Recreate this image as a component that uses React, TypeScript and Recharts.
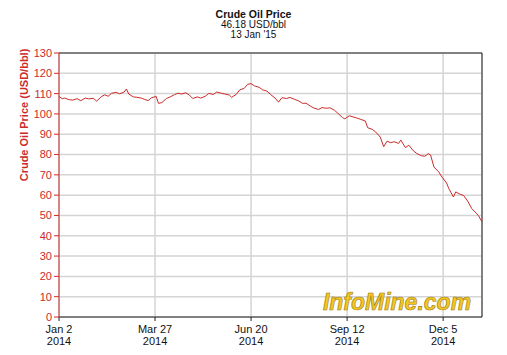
import React from "react";
import {
  LineChart,
  Line,
  XAxis,
  YAxis,
  CartesianGrid,
  ReferenceLine,
} from "recharts";

// days since Jan 2 2014
const DAYS = [
  0, 3, 5, 9, 12, 16, 19, 23, 26, 30, 33, 37, 40, 43, 46, 50, 53, 57, 59, 61,
  65, 68, 72, 75, 78, 81, 85, 87, 90, 94, 97, 101, 104, 107, 111, 114, 117, 121,
  124, 128, 131, 135, 138, 142, 145, 149, 151, 155, 158, 162, 165, 168, 171, 175,
  178, 182, 185, 189, 192, 195, 199, 202, 206, 209, 213, 216, 220, 223, 227, 230,
  234, 237, 241, 244, 248, 250, 254, 258, 261, 264, 268, 270, 274, 277, 281, 284,
  287, 290, 293, 297, 299, 303, 306, 310, 313, 317, 320, 323, 325, 328, 332, 335,
  339, 341, 345, 347, 351, 354, 358, 361, 365, 367, 370,
];

const PRICES = [
  108.5, 107.5, 107.8, 107, 106.8, 107.5, 106.5, 107.8, 107.4, 107.7, 106.3,
  108.5, 109.4, 108.7, 110.2, 110.6, 109.9, 110.8, 112.3, 109.8, 108.4, 108.2,
  107.8, 107.1, 106.6, 108, 108.6, 105.2, 105.6, 107.6, 108.3, 109.5, 110.2,
  109.8, 110.4, 109.3, 107.6, 108.4, 107.8, 108.7, 110.1, 109.6, 110.8, 110.2,
  109.8, 109.3, 108.2, 109.6, 111.8, 112.6, 114.6, 114.9, 113.8, 113.1, 111.9,
  111.2, 109.6, 107.8, 105.8, 108, 107.6, 108.1, 107.2, 106.6, 105.2, 105.3,
  103.8, 102.9, 102.2, 103.1, 102.8, 103.0, 101.8, 100.3, 98.2, 97.6, 99.1, 98.4,
  97.9, 97.3, 96.5, 93.2, 92.4, 91.1, 88.6, 83.9, 86.6, 85.8, 86.3, 85.5, 87.1,
  83.4, 84.6, 81.8, 80.5, 79.4, 79.2, 80.4, 79.8, 73.8, 71.6, 68.9, 66.0, 63.2,
  59.1, 61.6, 60.4, 59.8, 56.6, 53.4, 51.1, 49.8, 46.9,
];

const X_TICKS = [0, 84, 168, 252, 336];
const X_LABELS = ["Jan 2", "Mar 27", "Jun 20", "Sep 12", "Dec 5"];
const X_YEARS = ["2014", "2014", "2014", "2014", "2014"];
const Y_TICKS = [0, 10, 20, 30, 40, 50, 60, 70, 80, 90, 100, 110, 120, 130];

const RED = "#cc2a2a";
const FONT = "Arial, 'Liberation Sans', sans-serif";

const data = DAYS.map((d, i) => ({ day: d, price: PRICES[i] }));

function XTick({ x, y, payload }: any) {
  const i = X_TICKS.indexOf(payload.value);
  return (
    <g transform={`translate(${x},${y})`}>
      <text textAnchor="middle" fill="#111" fontSize={11} fontFamily={FONT}>
        <tspan x={0} dy={10}>{X_LABELS[i]}</tspan>
        <tspan x={0} dy={12}>{X_YEARS[i]}</tspan>
      </text>
    </g>
  );
}

function YLabel() {
  return (
    <text
      x={28}
      y={115}
      transform="rotate(-90 28 115)"
      textAnchor="middle"
      fill={RED}
      fontSize={11}
      fontWeight="bold"
      fontFamily={FONT}
    >
      Crude Oil Price (USD/bbl)
    </text>
  );
}

export default function App() {
  return (
    <div style={{ position: "absolute", left: 0, top: 0, width: 507, height: 355, background: "#fff" }}>
      <div
        style={{
          position: "absolute",
          left: 0,
          top: 9,
          width: 507,
          textAlign: "center",
          fontFamily: FONT,
          fontSize: 10,
          lineHeight: "10.5px",
          color: "#111",
        }}
      >
        <div style={{ fontWeight: "bold", fontSize: 10.5 }}>Crude Oil Price</div>
        <div>46.18 USD/bbl</div>
        <div>13 Jan '15</div>
      </div>
      <LineChart
        width={507}
        height={355}
        data={data}
        margin={{ top: 53, right: 25, bottom: 8, left: 0 }}
      >
        <CartesianGrid stroke="#d4d4d4" strokeWidth={1.5} />
        <XAxis
          dataKey="day"
          type="number"
          domain={[0, 370]}
          ticks={X_TICKS}
          tick={<XTick />}
          stroke="#222"
          tickSize={4}
          interval={0}
          height={30}
        />
        <YAxis
          domain={[0, 130]}
          ticks={Y_TICKS}
          width={59}
          stroke={RED}
          tickSize={5}
          tick={{ fill: RED, fontSize: 11, fontFamily: FONT }}
          interval={0}
          label={<YLabel />}
        />
        <ReferenceLine y={130} stroke="#222" />
        <ReferenceLine x={370} stroke="#222" />
        <Line
          type="linear"
          dataKey="price"
          stroke={RED}
          strokeWidth={1}
          dot={false}
          isAnimationActive={false}
        />
        <text
          x={397}
          y={310}
          textAnchor="middle"
          fontSize={23}
          fontWeight="bold"
          fontStyle="italic"
          fontFamily={FONT}
          fill="#f3c623"
          stroke="#9a7a10"
          strokeWidth={0.6}
        >
          InfoMine.com
        </text>
      </LineChart>
    </div>
  );
}
